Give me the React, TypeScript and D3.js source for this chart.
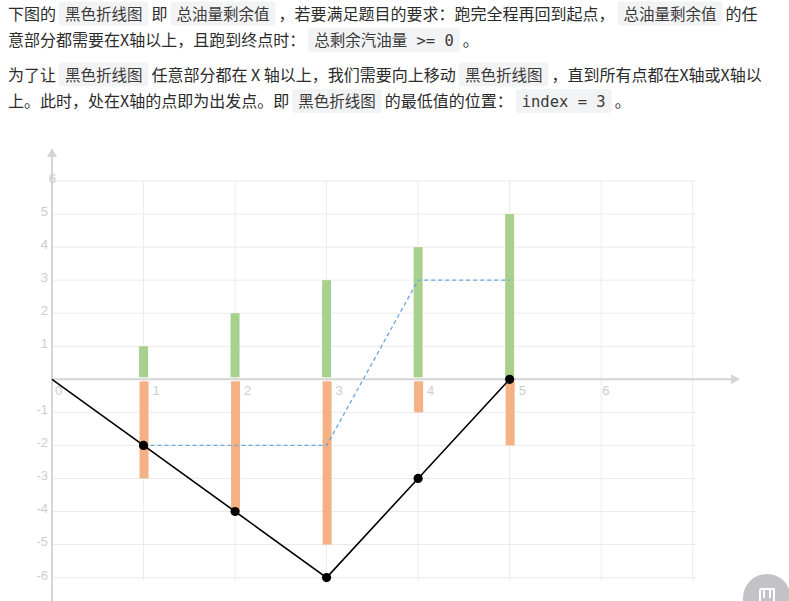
import React from 'react';
import * as d3 from 'd3';

// paragraph text, split into plain / inline-code pieces
const para1Line1 = [
    { t: '下图的', code: false },
    { t: '黑色折线图', code: true },
    { t: '即', code: false },
    { t: '总油量剩余值', code: true },
    { t: '，若要满足题目的要求：跑完全程再回到起点，', code: false },
    { t: '总油量剩余值', code: true },
    { t: '的任', code: false },
];
const para1Line2 = [
    { t: '意部分都需要在X轴以上，且跑到终点时：', code: false },
    { t: '总剩余汽油量 >= 0', code: true },
    { t: '。', code: false },
];
const para2Line1 = [
    { t: '为了让', code: false },
    { t: '黑色折线图', code: true },
    { t: '任意部分都在 X 轴以上，我们需要向上移动', code: false },
    { t: '黑色折线图', code: true },
    { t: '，直到所有点都在X轴或X轴以', code: false },
];
const para2Line2 = [
    { t: '上。此时，处在X轴的点即为出发点。即', code: false },
    { t: '黑色折线图', code: true },
    { t: '的最低值的位置：', code: false },
    { t: 'index = 3', code: true },
    { t: '。', code: false },
];

// chart data
const stations = [1, 2, 3, 4, 5];
const gas = [1, 2, 3, 4, 5];
const cost = [-3, -4, -5, -1, -2];
const remainX = [0, 1, 2, 3, 4, 5];
const remain = [0, -2, -4, -6, -3, 0];
const shiftedX = [1, 2, 3, 4, 5];
const shifted = [-2, -2, -2, 3, 3];
const yLabels = [6, 5, 4, 3, 2, 1, -1, -2, -3, -4, -5, -6];
const xLabels = [0, 1, 2, 3, 4, 5, 6];
const xGrid = [1, 2, 3, 4, 5, 6, 7];

const W = 789;
const H = 601;

const App: React.FC = () => {
    const svgRef = React.useRef<SVGSVGElement>(null);

    React.useEffect(() => {
        document.body.style.margin = '0';
        document.body.style.overflow = 'hidden';
        if (!svgRef.current) return;
        const svg = d3.select(svgRef.current);
        svg.selectAll('*').remove();

        // ---- text block ----
        const lines = [
            { segs: para1Line1, cy: 13.5 },
            { segs: para1Line2, cy: 40 },
            { segs: para2Line1, cy: 74.5 },
            { segs: para2Line2, cy: 101 },
        ];
        const txt = svg.append('g');
        lines.forEach(line => {
            let x = 8;
            line.segs.forEach(s => {
                if (!s.code) {
                    const t = txt.append('text')
                        .attr('x', x)
                        .attr('y', line.cy + 6)
                        .attr('font-family', "'Noto Sans CJK SC', 'Noto Sans', sans-serif")
                        .attr('font-size', 16)
                        .attr('fill', '#2b2b2b')
                        .text(s.t);
                    x += (t.node() as SVGTextElement).getComputedTextLength();
                } else {
                    x += 3;
                    const bg = txt.append('rect')
                        .attr('y', line.cy - 12)
                        .attr('height', 24)
                        .attr('rx', 3)
                        .attr('fill', '#f2f3f4');
                    const t = txt.append('text')
                        .attr('x', x + 6)
                        .attr('y', line.cy + 6)
                        .attr('font-family', "'DejaVu Sans Mono', 'Noto Sans CJK SC', monospace")
                        .attr('font-size', 15.5)
                        .attr('fill', '#3a3a3a')
                        .text(s.t);
                    const w = (t.node() as SVGTextElement).getComputedTextLength() + 12;
                    bg.attr('x', x).attr('width', w);
                    x += w + 3;
                }
            });
        });

        // ---- chart ----
        const xScale = d3.scaleLinear().domain([0, 7]).range([52, 692.7]);
        const yScale = d3.scaleLinear().domain([-6, 6]).range([577.6, 181]);
        const x0 = xScale(0);
        const y0 = yScale(0);
        const g = svg.append('g');

        // grid
        g.selectAll('line.hgrid')
            .data(yLabels)
            .enter()
            .append('line')
            .attr('x1', x0)
            .attr('x2', 696)
            .attr('y1', d => yScale(d))
            .attr('y2', d => yScale(d))
            .attr('stroke', '#ebebeb')
            .attr('stroke-width', 1);
        g.selectAll('line.vgrid')
            .data(xGrid)
            .enter()
            .append('line')
            .attr('x1', d => xScale(d))
            .attr('x2', d => xScale(d))
            .attr('y1', yScale(6))
            .attr('y2', yScale(-6.1))
            .attr('stroke', '#ebebeb')
            .attr('stroke-width', 1);

        // axes
        g.append('line')
            .attr('x1', x0).attr('x2', 733)
            .attr('y1', y0).attr('y2', y0)
            .attr('stroke', '#d5d5d5').attr('stroke-width', 2);
        g.append('path')
            .attr('d', `M740,${y0} L731,${y0 - 5} L731,${y0 + 5} Z`)
            .attr('fill', '#d5d5d5');
        g.append('line')
            .attr('x1', x0).attr('x2', x0)
            .attr('y1', 156).attr('y2', H)
            .attr('stroke', '#d5d5d5').attr('stroke-width', 2);
        g.append('path')
            .attr('d', `M${x0},148 L${x0 - 5},157 L${x0 + 5},157 Z`)
            .attr('fill', '#d5d5d5');

        // tick labels (top "6" sits on the axis in the original)
        g.selectAll('text.ylab')
            .data(yLabels)
            .enter()
            .append('text')
            .attr('x', d => (d === 6 ? x0 + 4 : x0 - 4))
            .attr('y', d => yScale(d) - 1.5)
            .attr('text-anchor', 'end')
            .attr('dominant-baseline', 'middle')
            .attr('font-family', "'Liberation Sans', Arial, sans-serif")
            .attr('font-size', 13)
            .attr('fill', '#cdcdcd')
            .text(d => d);
        g.selectAll('text.xlab')
            .data(xLabels)
            .enter()
            .append('text')
            .attr('x', d => xScale(d) + (d === 0 ? 3 : d === 6 ? 1 : 9))
            .attr('y', y0 + 12)
            .attr('dominant-baseline', 'middle')
            .attr('font-family', "'Liberation Sans', Arial, sans-serif")
            .attr('font-size', 13)
            .attr('fill', '#cdcdcd')
            .text(d => d);

        // bars
        const bw = 9;
        g.selectAll('rect.gas')
            .data(stations)
            .enter()
            .append('rect')
            .attr('x', (d) => xScale(d) - bw / 2)
            .attr('y', (d, i) => yScale(gas[i]))
            .attr('width', bw)
            .attr('height', (d, i) => y0 - 2 - yScale(gas[i]))
            .attr('fill', '#a9d18e');
        g.selectAll('rect.cost')
            .data(stations)
            .enter()
            .append('rect')
            .attr('x', (d) => xScale(d) - bw / 2 + 0.5)
            .attr('y', y0 + 2)
            .attr('width', bw)
            .attr('height', (d, i) => yScale(cost[i]) - y0 - 2)
            .attr('fill', '#f4b183');

        // shifted (dashed) line
        const dashLine = d3.line<number>()
            .x(d => xScale(d))
            .y((d, i) => yScale(shifted[i]));
        g.append('path')
            .attr('d', dashLine(shiftedX) as string)
            .attr('fill', 'none')
            .attr('stroke', '#6aa6e0')
            .attr('stroke-width', 1.3)
            .attr('stroke-dasharray', '4,3');

        // remaining fuel line
        const remLine = d3.line<number>()
            .x(d => xScale(d))
            .y((d, i) => yScale(remain[i]));
        g.append('path')
            .attr('d', remLine(remainX) as string)
            .attr('fill', 'none')
            .attr('stroke', '#000')
            .attr('stroke-width', 1.6);
        g.selectAll('circle.pt')
            .data(remainX.slice(1))
            .enter()
            .append('circle')
            .attr('cx', d => xScale(d))
            .attr('cy', (d, i) => yScale(remain[i + 1]))
            .attr('r', 4.6)
            .attr('fill', '#000');

        // floating button at bottom right
        const btn = svg.append('g');
        btn.append('circle')
            .attr('cx', 767).attr('cy', 598).attr('r', 24)
            .attr('fill', '#c3c3c7');
        btn.append('path')
            .attr('d', 'M760,589 h14 v12 M760,589 v12 M764,589 v9 M770,589 v9')
            .attr('fill', 'none')
            .attr('stroke', '#fff')
            .attr('stroke-width', 2);
    }, []);

    return <svg ref={svgRef} width={W} height={H} style={{ display: 'block' }} />;
};

export default App;
